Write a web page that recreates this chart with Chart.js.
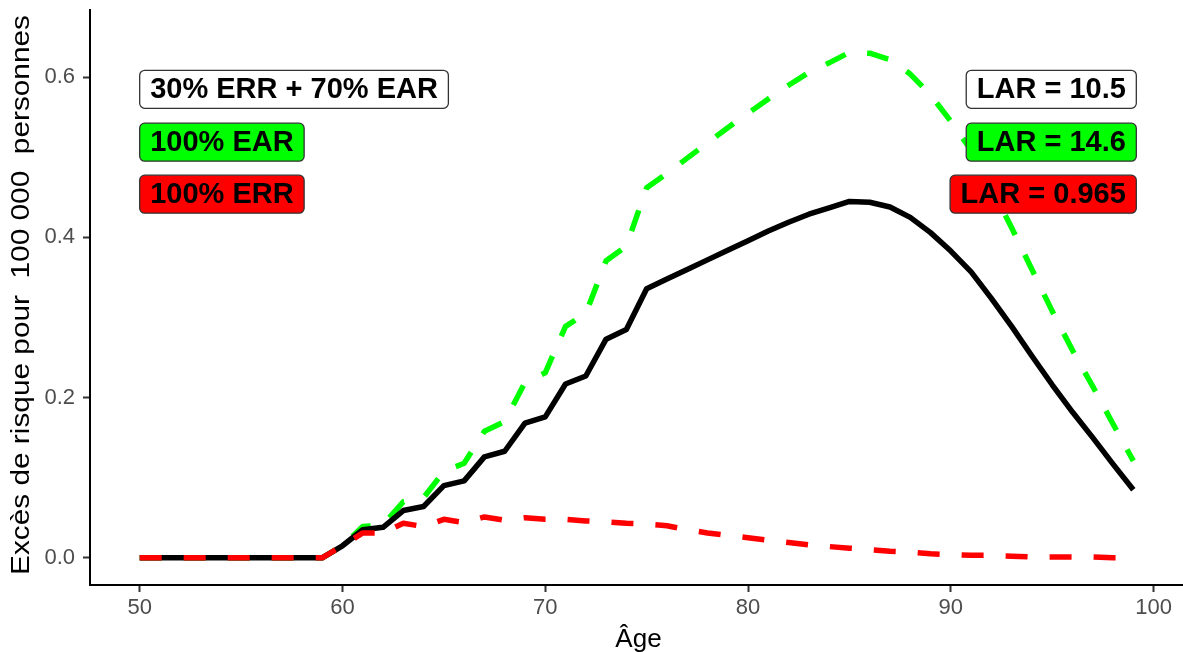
<!DOCTYPE html>
<html lang="fr">
<head>
<meta charset="utf-8">
<title>Excès de risque selon l'âge</title>
<script src="https://cdn.jsdelivr.net/npm/chart.js@4.4.1/dist/chart.umd.min.js"></script>
<style>
    html, body { margin: 0; padding: 0; background: #ffffff; }
    #wrap { width: 1183px; height: 652px; }
</style>
</head>
<body>
<div id="wrap"><canvas id="riskChart" width="1183" height="652"></canvas></div>
<script>
// Ages (x axis)
const ages = [50, 51, 52, 53, 54, 55, 56, 57, 58, 59,
              60, 61, 62, 63, 64, 65, 66, 67, 68, 69,
              70, 71, 72, 73, 74, 75, 76, 77, 78, 79,
              80, 81, 82, 83, 84, 85, 86, 87, 88, 89,
              90, 91, 92, 93, 94, 95, 96, 97, 98, 99];

// 30% ERR + 70% EAR (black solid)
const mixed = [0, 0, 0, 0, 0, 0, 0, 0, 0, 0,
               0.015, 0.035, 0.038, 0.059, 0.064, 0.090, 0.096, 0.126, 0.133, 0.168,
               0.176, 0.217, 0.227, 0.273, 0.285, 0.336, 0.348, 0.360, 0.372, 0.384,
               0.396, 0.408, 0.419, 0.429, 0.437, 0.445, 0.444, 0.438, 0.425, 0.406,
               0.383, 0.357, 0.324, 0.289, 0.252, 0.216, 0.182, 0.150, 0.117, 0.085];

// 100% EAR (green dashed)
const ear = [0, 0, 0, 0, 0, 0, 0, 0, 0, 0,
             0.015, 0.039, 0.041, 0.070, 0.075, 0.108, 0.118, 0.158, 0.170, 0.219,
             0.231, 0.289, 0.305, 0.371, 0.389, 0.462, 0.480, 0.499, 0.518, 0.537,
             0.555, 0.573, 0.590, 0.606, 0.618, 0.631, 0.630, 0.622, 0.604, 0.578,
             0.545, 0.509, 0.462, 0.412, 0.360, 0.308, 0.259, 0.214, 0.167, 0.121];

// 100% ERR (red dashed)
const err = [0, 0, 0, 0, 0, 0, 0, 0, 0, 0,
             0.015, 0.031, 0.031, 0.043, 0.039, 0.048, 0.044, 0.051, 0.047, 0.050,
             0.048, 0.048, 0.046, 0.045, 0.043, 0.042, 0.040, 0.035, 0.031, 0.028,
             0.025, 0.022, 0.019, 0.016, 0.014, 0.012, 0.010, 0.008, 0.007, 0.005,
             0.004, 0.003, 0.003, 0.002, 0.001, 0.001, 0.001, 0.001, 0.000, 0.000];

// Tick labels
const xTicks = [50, 60, 70, 80, 90, 100];
const yTicks = [0, 0.2, 0.4, 0.6];

// Boxed labels (left: scenario, right: LAR)
const labelTexts = ['30% ERR + 70% EAR', '100% EAR', '100% ERR',
                    'LAR = 10.5', 'LAR = 14.6', 'LAR = 0.965'];
const labelX = [50, 50, 50, 99, 99, 99];
const labelY = [0.585, 0.519, 0.454, 0.585, 0.519, 0.454];
const labelSide = ['left', 'left', 'left', 'right', 'right', 'right'];
const labelFill = ['#ffffff', '#00ff00', '#ff0000', '#ffffff', '#00ff00', '#ff0000'];

const xTitle = 'Âge';
const yTitle = 'Excès de risque pour  100 000  personnes';

const FONT = '"Liberation Sans", Arial, Helvetica, sans-serif';

function toPoints(values) {
    return ages.map((a, i) => ({ x: a, y: values[i] }));
}

function roundBox(ctx, x, y, w, h, r) {
    ctx.beginPath();
    ctx.moveTo(x + r, y);
    ctx.lineTo(x + w - r, y);
    ctx.arcTo(x + w, y, x + w, y + r, r);
    ctx.lineTo(x + w, y + h - r);
    ctx.arcTo(x + w, y + h, x + w - r, y + h, r);
    ctx.lineTo(x + r, y + h);
    ctx.arcTo(x, y + h, x, y + h - r, r);
    ctx.lineTo(x, y + r);
    ctx.arcTo(x, y, x + r, y, r);
    ctx.closePath();
}

// Labels in boxes + axis titles
const decorations = {
    id: 'decorations',
    afterDatasetsDraw(chart) {
        const { ctx, scales: { x, y } } = chart;
        ctx.save();

        ctx.font = 'bold 29px ' + FONT;
        const padX = 10.5;
        const boxH = 38;
        labelTexts.forEach((txt, i) => {
            const w = ctx.measureText(txt).width + 2 * padX;
            const px = x.getPixelForValue(labelX[i]);
            const left = labelSide[i] === 'left' ? px : px + 3 - w;
            const top = y.getPixelForValue(labelY[i]) - boxH / 2;
            roundBox(ctx, left, top, w, boxH, 5);
            ctx.fillStyle = labelFill[i];
            ctx.fill();
            ctx.lineWidth = 1.3;
            ctx.strokeStyle = '#333333';
            ctx.stroke();
            ctx.fillStyle = '#000000';
            ctx.textAlign = 'left';
            ctx.textBaseline = 'middle';
            ctx.fillText(txt, left + padX, top + boxH / 2 + 1);
        });
        ctx.restore();
    },
    afterDraw(chart) {
        const { ctx, chartArea } = chart;
        ctx.save();
        ctx.fillStyle = '#000000';

        // x title
        ctx.font = '26px ' + FONT;
        ctx.textAlign = 'center';
        ctx.textBaseline = 'alphabetic';
        ctx.fillText(xTitle, (chartArea.left + chartArea.right) / 2 + 2, 647);

        // y title (rotated, stretched along its length like the original)
        ctx.font = '25px ' + FONT;
        const w = ctx.measureText(yTitle).width;
        ctx.translate(29, 295);
        ctx.rotate(-Math.PI / 2);
        ctx.scale(560 / w, 1);
        ctx.fillText(yTitle, 0, 0);
        ctx.restore();
    }
};

const ctxRisk = document.getElementById('riskChart').getContext('2d');
const riskChart = new Chart(ctxRisk, {
    type: 'line',
    data: {
        datasets: [
            {
                label: '100% ERR',
                data: toPoints(err),
                borderColor: '#ff0000',
                borderWidth: 5.5,
                borderDash: [22, 22],
                order: 1
            },
            {
                label: '30% ERR + 70% EAR',
                data: toPoints(mixed),
                borderColor: '#000000',
                borderWidth: 5.5,
                order: 2
            },
            {
                label: '100% EAR',
                data: toPoints(ear),
                borderColor: '#00ff00',
                borderWidth: 5.5,
                borderDash: [22, 22],
                order: 3
            }
        ]
    },
    options: {
        responsive: false,
        animation: false,
        devicePixelRatio: 1,
        layout: { padding: { top: 10, right: 0, bottom: 0, left: 0 } },
        elements: {
            point: { radius: 0 },
            line: { tension: 0, borderJoinStyle: 'round', borderCapStyle: 'butt', fill: false }
        },
        plugins: {
            legend: { display: false },
            tooltip: { enabled: false }
        },
        scales: {
            x: {
                type: 'linear',
                min: 47.55,
                max: 101.45,
                afterFit: s => { s.height = 67; s.paddingLeft = 0; s.paddingRight = 0; },
                afterBuildTicks: s => { s.ticks = xTicks.map(v => ({ value: v })); },
                ticks: {
                    autoSkip: false,
                    maxRotation: 0,
                    padding: 3,
                    color: '#4d4d4d',
                    font: { family: FONT, size: 22 },
                    callback: v => String(v)
                },
                grid: { display: true, drawOnChartArea: false, drawTicks: true, tickLength: 7, tickWidth: 2, color: '#333333' },
                border: { display: true, color: '#000000', width: 2 }
            },
            y: {
                type: 'linear',
                min: -0.034,
                max: 0.684,
                afterFit: s => { s.width = 90; s.paddingTop = 0; s.paddingBottom = 0; },
                afterBuildTicks: s => { s.ticks = yTicks.map(v => ({ value: v })); },
                ticks: {
                    autoSkip: false,
                    padding: 8,
                    color: '#4d4d4d',
                    font: { family: FONT, size: 22 },
                    callback: v => v.toFixed(1)
                },
                grid: { display: true, drawOnChartArea: false, drawTicks: true, tickLength: 7, tickWidth: 2, color: '#333333' },
                border: { display: true, color: '#000000', width: 2 }
            }
        }
    },
    plugins: [decorations]
});
</script>
</body>
</html>
